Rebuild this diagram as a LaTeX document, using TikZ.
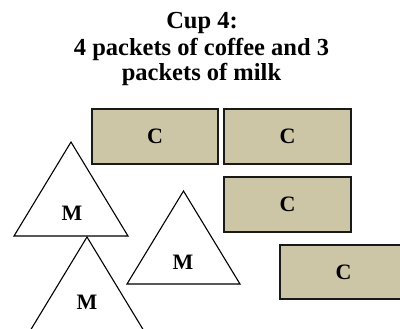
\documentclass[tikz,border=0pt]{standalone}
\usepackage{fontspec}
\setmainfont{Liberation Serif}
\begin{document}
\begin{tikzpicture}[x=1bp,y=-1bp,
  lbl/.style={font=\fontsize{24.5bp}{27bp}\selectfont\bfseries, inner sep=0pt},
  tag/.style={font=\fontsize{22bp}{24bp}\selectfont\bfseries, inner sep=0pt},
  packet/.style={draw=black!90, line width=1.5bp, fill=tanfill},
  milk/.style={draw=black, line width=1.1bp, fill=white, line join=miter}]
\definecolor{tanfill}{HTML}{CDC6A6}
\useasboundingbox (0,0) rectangle (400,329);
\clip (0,0) rectangle (400,329);
% title
\node[lbl, anchor=base] (t1) at (202,28) {Cup 4:};
\node[lbl, anchor=base] (t2) at (201.5,55) {4 packets of coffee and 3};
\node[lbl, anchor=base] (t3) at (201.5,80.5) {packets of milk};
% coffee packets
\draw[packet] (92,109) rectangle (218,164);
\node[tag] (c1) at (155,136.5) {C};
\draw[packet] (224,109) rectangle (351,164);
\node[tag] (c2) at (287.5,136.5) {C};
\draw[packet] (224,177) rectangle (351,232);
\node[tag] (c3) at (287.5,204.5) {C};
\draw[packet] (280,245) rectangle (407,299);
\node[tag] (c4) at (343.5,272) {C};
% milk packets
\draw[milk] (14,236) -- (128,236) -- (71,142) -- cycle;
\node[tag] (m1) at (72,213) {M};
\draw[milk] (30,331) -- (144,331) -- (87,237) -- cycle;
\node[tag] (m2) at (87,302) {M};
\draw[milk] (127,284) -- (240,284) -- (183.5,191) -- cycle;
\node[tag] (m3) at (183,262) {M};
\end{tikzpicture}
\end{document}
